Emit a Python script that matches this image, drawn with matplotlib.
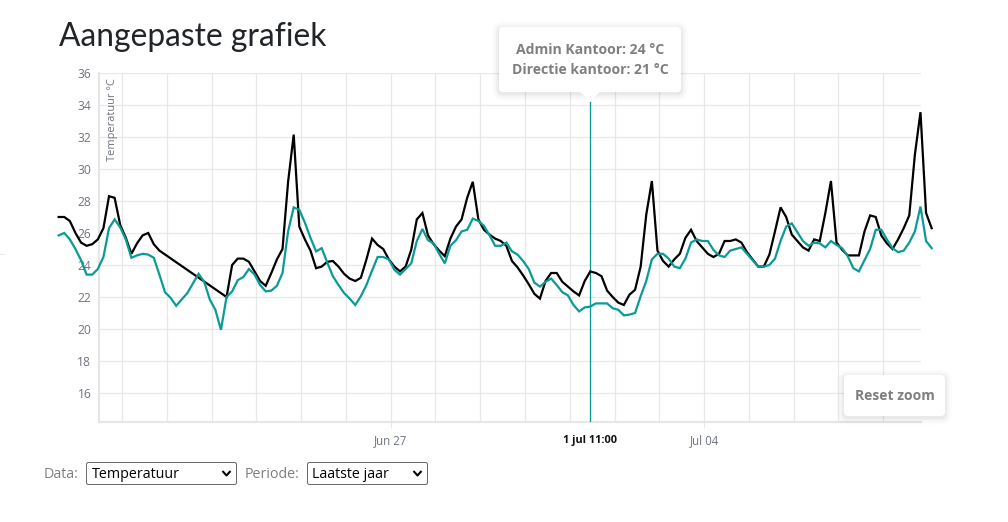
import numpy as np
import pandas as pd
import matplotlib
matplotlib.use('Agg')
import matplotlib.pyplot as plt
from matplotlib.patches import FancyBboxPatch, Polygon

nan = float('nan')

# readings every 3 hours, nan where the sensor has no value
admin_kantoor = [27.0, 27.0, 26.75, 26.0, 25.4, 25.2, 25.3, 25.6, 26.3, 28.3, 28.2, 26.5, 25.7, 24.7, 25.35, 25.85, 26.0, 25.3, 24.9,
                 nan, nan, nan, nan, nan, nan, nan, nan, nan, nan, nan,
                 22.0, 24.0, 24.4, 24.4, 24.2, 23.6, 23.0, 22.7, 23.5, 24.35, 25.0, 29.2, 32.15, 26.4, 25.6, 24.9, 23.8, 23.9, 24.2, 24.25,
                 23.9, 23.45, 23.15, 23.0, 23.2, 24.35, 25.65, 25.25, 25.0, 24.35, 23.9, 23.6, 23.9, 24.95, 26.85, 27.25, 25.85, 25.3, 24.9, 24.55,
                 25.65, 26.4, 26.85, 28.2, 29.2, 26.85, 26.2, 25.9, 25.65, 25.5, 25.2, 24.25, 23.85, 23.35, 22.8, 22.2, 21.9, 23.0, 23.5, 23.5,
                 22.95, 22.65, 22.35, 22.1, 23.0, 23.6, 23.5, 23.3, 22.4, 22.0, 21.65, 21.5, 22.15, 22.45,
                 23.9, 27.15, 29.25, 24.9, 24.25, 23.9, 24.35, 24.7, 25.7, 26.2, 25.5, 25.1, 24.7, 24.5, 24.7, 25.5, 25.5, 25.6, 25.4, 24.8,
                 24.35, 23.9, 23.9, 24.65, 26.1, 27.6, 27.0, 25.9, 25.5, 25.1, 24.9, 25.6, 25.5, 27.25, 29.25, 25.4, 24.95, 24.6, 24.6, 24.6,
                 26.1, 27.1, 27.0, 25.85, 25.35, 25.0, 25.6, 26.3, 27.1, 30.9, 33.55, 27.25, 26.3]
directie_kantoor = [25.85, 26.0, 25.6, 25.0, 24.3, 23.4, 23.4, 23.75, 24.5, 26.3, 26.85, 26.35, 25.6, 24.45, 24.6, 24.7, 24.65, 24.45, 23.4, 22.3,
                    21.95, 21.45, 21.85, 22.25, 22.85, 23.45, 22.95, 21.85, 21.2, 19.95, 22.0, 22.35, 23.05, 23.25, 23.75, 23.4, 22.75, 22.35, 22.4, 22.7,
                    23.5, 26.1, 27.6, 27.45, 26.65, 25.7, 24.85, 25.05, 24.15, 23.3,
                    22.75, 22.25, 21.9, 21.5, 22.05, 22.75, 23.65, 24.5, 24.5, 24.35, 23.7, 23.4, 23.75, 24.1, 25.5, 26.25, 25.55, 25.35, 24.7, 24.1,
                    25.2, 25.55, 26.1, 26.2, 26.9, 26.75, 26.45, 25.85, 25.2, 25.2, 25.4, 24.85, 24.65, 24.25, 23.75, 22.9, 22.65, 22.95, 23.15, 22.75,
                    22.3, 22.1, 21.5, 21.1, 21.35, 21.4, 21.6, 21.6, 21.6, 21.3, 21.2, 20.85, 20.9, 21.0,
                    22.05, 23.0, 24.35, 24.7, 24.7, 24.4, 23.9, 23.8, 24.4, 25.4, 25.6, 25.5, 25.5, 24.95, 24.6, 24.5, 24.9, 25.0, 25.1, 24.7,
                    24.3, 23.9, 23.9, 24.0, 24.4, 25.5, 26.4, 26.6, 26.05, 25.5, 25.2, 25.4, 25.35, 25.1, 25.5, 25.25, 25.05, 24.55, 23.8, 23.6,
                    24.3, 25.0, 26.2, 26.2, 25.6, 25.05, 24.8, 24.9, 25.4, 26.1, 27.65, 25.5, 25.05]
y_ticks = [16, 18, 20, 22, 24, 26, 28, 30, 32, 34, 36]
label_dates = ['2021-06-27', '2021-07-04']
label_texts = ['Jun 27', 'Jul 04']
hover_time = '2021-07-01 11:00'

W, H = 1008, 522
BLACK = '#000000'
TEAL = '#0a9b96'
GRID = '#e8e8e8'
GREY = '#7f7f7f'
TICK = '#6f7380'

times = pd.date_range('2021-06-19 14:00', periods=len(admin_kantoor), freq='3h')
admin = np.array(admin_kantoor)
directie = np.array(directie_kantoor)
ok = ~np.isnan(admin)

fig = plt.figure(figsize=(W / 100, H / 100), dpi=100)

# plot area 99..921 x 73..422 in pixels
ax = fig.add_axes([99 / W, 1 - 422 / H, (921 - 99) / W, (422 - 73) / H])
px_day = 44.77
jun27 = pd.Timestamp(label_dates[0])
ax.set_xlim(jun27 - pd.Timedelta(days=(390.7 - 99) / px_day), jun27 + pd.Timedelta(days=(921 - 390.7) / px_day))
ax.set_ylim(36 - (422 - 73) / 16, 36)

for side in ['top', 'right']:
    ax.spines[side].set_visible(False)
for side in ['left', 'bottom']:
    ax.spines[side].set_color('#e6e6e6')
    ax.spines[side].set_linewidth(1.6)

ax.set_yticks(y_ticks)
ax.set_xticks(pd.to_datetime(label_dates))
ax.set_xticklabels(label_texts)
ax.set_xticks(pd.date_range('2021-06-21', '2021-07-08', freq='D'), minor=True)
ax.grid(True, which='both', color=GRID, linewidth=0.9, zorder=0)
ax.set_axisbelow(True)
ax.tick_params(axis='y', length=0, pad=5.5, labelsize=8.7, labelcolor=TICK)
ax.tick_params(axis='x', which='major', length=4.5, width=0.7, color=GRID, pad=4.2, labelsize=8.3, labelcolor=TICK)
ax.tick_params(axis='x', which='minor', length=0)
for lab in ax.get_xticklabels() + ax.get_yticklabels():
    lab.set_family('Open Sans')

t0 = pd.Timestamp(hover_time)
ax.plot([t0, t0], [ax.get_ylim()[0], 34.2], color=TEAL, lw=0.95, zorder=3)
ax.plot(times[ok], admin[ok], color=BLACK, lw=1.6, clip_on=False, zorder=4, solid_joinstyle='miter')
ax.plot(times, directie, color=TEAL, lw=1.6, clip_on=False, zorder=5, solid_joinstyle='miter')

# overlay in pixels for the page elements around the chart
ov = fig.add_axes([0, 0, 1, 1], zorder=10)
ov.set_xlim(0, W)
ov.set_ylim(H, 0)
ov.axis('off')
ov.patch.set_alpha(0)


def card(x0, y0, x1, y1, rad=4):
    # white box with a soft shadow
    for grow, a in [(7, 0.012), (5, 0.018), (3, 0.025), (1.5, 0.03)]:
        ov.add_patch(FancyBboxPatch((x0 - grow, y0 - grow + 1.5), x1 - x0 + 2 * grow, y1 - y0 + 2 * grow,
                                    boxstyle='round,pad=0,rounding_size=%g' % (rad + grow), fc='black', ec='none', alpha=a))
    ov.add_patch(FancyBboxPatch((x0, y0), x1 - x0, y1 - y0, boxstyle='round,pad=0,rounding_size=%g' % rad, fc='white', ec='none'))


def select(x0, y0, x1, y1, text):
    ov.add_patch(FancyBboxPatch((x0, y0), x1 - x0, y1 - y0, boxstyle='round,pad=0,rounding_size=2', fc='white', ec='#6b6b6b', lw=0.72))
    ov.text(x0 + 5, (y0 + y1) / 2 + 1.5, text, family='Open Sans', fontsize=10.3, color='black', ha='left', va='center')
    cx = x1 - 10
    ov.plot([cx - 4, cx, cx + 4], [471, 475.5, 471], color='black', lw=1.5, solid_capstyle='butt')


ov.text(59, 46, 'Aangepaste grafiek', family='Lato', fontsize=22.9, color='#212529', ha='left', va='baseline')
ov.text(112, 119.5, 'Temperatuur °C', family='Open Sans', fontsize=7.9, color=TICK, rotation=90, ha='center', va='center')
ov.plot([0, 5], [254, 254], color='#eeeeee', lw=0.7)

# tooltip
card(499, 27, 681, 92)
ov.add_patch(Polygon([[580, 92], [600, 92], [590, 101]], closed=True, fc='white', ec='none'))
ov.text(590, 50, 'Admin Kantoor: 24 °C', family='Open Sans', fontweight='bold', fontsize=10.1, color=GREY, ha='center', va='center')
ov.text(590, 70, 'Directie kantoor: 21 °C', family='Open Sans', fontweight='bold', fontsize=10.1, color=GREY, ha='center', va='center')

# hover label on the x axis
ov.text(590, 440, '1 jul 11:00', family='Open Sans', fontweight='bold', fontsize=7.9, color='#111111', ha='center', va='center')

# reset button
card(844, 375, 945, 416)
ov.text(894.5, 396.5, 'Reset zoom', family='Open Sans', fontweight='bold', fontsize=10, color=GREY, ha='center', va='center')

# form controls
ov.text(44, 474, 'Data:', family='Open Sans', fontsize=10.3, color=GREY, ha='left', va='center')
select(86.5, 462.5, 236.5, 484.5, 'Temperatuur')
ov.text(245, 474, 'Periode:', family='Open Sans', fontsize=10.3, color=GREY, ha='left', va='center')
select(307.5, 462.5, 427.5, 484.5, 'Laatste jaar')

fig.savefig('out.png', dpi=100)
